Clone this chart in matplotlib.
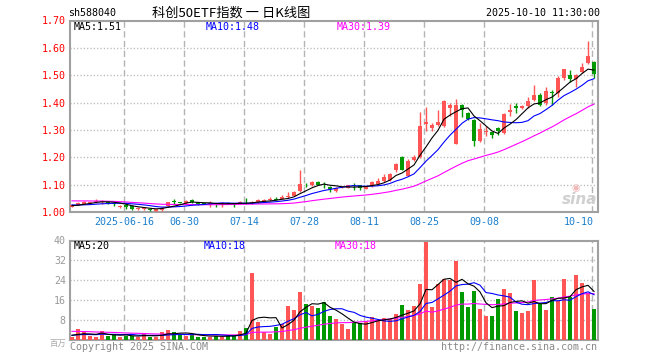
import numpy as np
import matplotlib
matplotlib.use('Agg')
import matplotlib.pyplot as plt
from matplotlib import transforms

plt.rcParams['lines.scale_dashes'] = False

# ---------------- data ----------------
opens = [1.020, 1.026, 1.030, 1.034, 1.038, 1.036, 1.036, 1.032, 1.020, 1.024,
         1.022, 1.012, 1.010, 1.010, 1.004, 1.008, 1.022, 1.038, 1.036, 1.032,
         1.044, 1.036, 1.031, 1.031, 1.030, 1.029, 1.034, 1.030, 1.030, 1.034,
         1.032, 1.036, 1.040, 1.044, 1.048, 1.048, 1.054, 1.060, 1.076, 1.100,
         1.098, 1.110, 1.100, 1.093, 1.078, 1.090, 1.089, 1.098, 1.097, 1.085,
         1.095, 1.104, 1.113, 1.118, 1.152, 1.202, 1.133, 1.190, 1.200, 1.323,
         1.308, 1.318, 1.314, 1.381, 1.250, 1.392, 1.361, 1.337, 1.260, 1.294,
         1.291, 1.306, 1.290, 1.366, 1.388, 1.380, 1.386, 1.410, 1.428, 1.398,
         1.437, 1.436, 1.490, 1.502, 1.487, 1.512, 1.546, 1.547]
highs = [1.028, 1.035, 1.042, 1.038, 1.046, 1.044, 1.038, 1.034, 1.026, 1.028,
         1.024, 1.018, 1.018, 1.012, 1.012, 1.020, 1.038, 1.046, 1.038, 1.044,
         1.046, 1.038, 1.033, 1.040, 1.032, 1.038, 1.036, 1.032, 1.042, 1.050,
         1.040, 1.048, 1.048, 1.056, 1.056, 1.062, 1.074, 1.076, 1.154, 1.106,
         1.112, 1.115, 1.109, 1.095, 1.090, 1.094, 1.099, 1.105, 1.099, 1.095,
         1.115, 1.123, 1.140, 1.142, 1.180, 1.205, 1.192, 1.210, 1.364, 1.385,
         1.326, 1.374, 1.410, 1.398, 1.412, 1.395, 1.364, 1.339, 1.325, 1.313,
         1.294, 1.312, 1.362, 1.396, 1.398, 1.391, 1.422, 1.465, 1.435, 1.457,
         1.447, 1.496, 1.523, 1.520, 1.503, 1.545, 1.624, 1.551]
lows = [1.018, 1.024, 1.028, 1.032, 1.034, 1.028, 1.030, 1.022, 1.014, 1.012,
        1.006, 1.006, 1.006, 1.002, 1.000, 1.004, 1.020, 1.030, 1.032, 1.028,
        1.034, 1.026, 1.028, 1.017, 1.017, 1.020, 1.030, 1.020, 1.028, 1.030,
        1.030, 1.034, 1.036, 1.040, 1.044, 1.046, 1.050, 1.058, 1.072, 1.090,
        1.095, 1.098, 1.088, 1.074, 1.074, 1.088, 1.087, 1.081, 1.080, 1.083,
        1.093, 1.102, 1.110, 1.115, 1.148, 1.152, 1.130, 1.186, 1.196, 1.296,
        1.297, 1.314, 1.310, 1.350, 1.248, 1.349, 1.338, 1.243, 1.256, 1.276,
        1.272, 1.282, 1.286, 1.350, 1.361, 1.377, 1.380, 1.404, 1.386, 1.392,
        1.392, 1.422, 1.484, 1.475, 1.457, 1.508, 1.542, 1.490]
closes = [1.026, 1.032, 1.038, 1.036, 1.042, 1.038, 1.032, 1.030, 1.022, 1.020,
          1.010, 1.014, 1.016, 1.008, 1.010, 1.016, 1.036, 1.036, 1.034, 1.040,
          1.036, 1.030, 1.029, 1.032, 1.029, 1.031, 1.031, 1.029, 1.038, 1.032,
          1.038, 1.044, 1.042, 1.046, 1.045, 1.056, 1.058, 1.072, 1.104, 1.098,
          1.110, 1.100, 1.098, 1.083, 1.088, 1.092, 1.097, 1.095, 1.088, 1.093,
          1.111, 1.114, 1.128, 1.138, 1.177, 1.155, 1.188, 1.202, 1.315, 1.330,
          1.318, 1.328, 1.405, 1.390, 1.392, 1.374, 1.341, 1.258, 1.303, 1.297,
          1.281, 1.297, 1.357, 1.374, 1.380, 1.388, 1.404, 1.429, 1.392, 1.441,
          1.434, 1.490, 1.522, 1.487, 1.502, 1.529, 1.571, 1.505]
volumes = [1.2, 4.4, 3.2, 1.9, 1.3, 3.7, 1.9, 2.1, 1.3, 1.9,
           1.9, 1.3, 2.9, 1.3, 1.5, 3.2, 4.0, 3.2, 2.4, 1.9,
           2.1, 1.5, 1.5, 1.5, 1.9, 1.5, 1.9, 1.9, 3.7, 5.1,
           27.1, 7.2, 3.2, 2.4, 5.5, 6.4, 13.9, 12.1, 19.2, 14.4,
           13.7, 13.1, 15.2, 9.9, 8.5, 6.4, 4.5, 7.2, 6.8, 7.5,
           9.5, 8.1, 9.1, 8.5, 10.5, 14.1, 12.1, 13.7, 22.5, 39.5,
           13.5, 22.5, 24.4, 24.1, 31.7, 19.5, 13.5, 19.7, 12.5, 9.9,
           9.9, 16.5, 20.7, 18.9, 11.9, 11.1, 11.7, 24.1, 14.5, 12.1,
           17.5, 15.9, 24.7, 17.2, 26.1, 23.1, 19.1, 12.5]
# earlier (off-screen) sessions, needed only for the moving averages at the left edge
prior_closes = [1.040, 1.036, 1.042, 1.046, 1.050, 1.048, 1.044, 1.052, 1.056, 1.054,
                1.050, 1.058, 1.060, 1.052, 1.048, 1.046, 1.050, 1.044, 1.040, 1.046,
                1.036, 1.032, 1.028, 1.026, 1.023, 1.024, 1.020, 1.022, 1.023]
prior_volumes = [5.2, 4.8, 3.9, 4.6, 5.5, 4.1, 3.8, 4.4, 5.0, 4.2,
                 3.6, 4.9, 4.5, 3.8, 4.3, 4.7, 4.0, 3.9, 4.6, 4.0,
                 2.4, 1.8, 2.2, 1.9, 1.7, 2.6, 1.9, 2.3, 2.0]

tick_idx = [9, 19, 29, 39, 49, 59, 69, 87]
tick_labels = ['2025-06-16', '06-30', '07-14', '07-28', '08-11', '08-25', '09-08', '10-10']
price_ticks = [1.00, 1.10, 1.20, 1.30, 1.40, 1.50, 1.60, 1.70]
vol_ticks = [8, 16, 24, 32, 40]

price_ma_text = ['MA5:1.51', 'MA10:1.48', 'MA30:1.39']
vol_ma_text = ['MA5:20', 'MA10:18', 'MA30:18']

# ---------------- helpers ----------------
W, H = 660, 360
def fx(px): return px / W
def fy(py): return 1 - py / H

def moving_avg(prior, series, n):
    full = np.array(prior + series, dtype=float)
    k = len(prior)
    return np.array([full[k + i - n + 1:k + i + 1].mean() for i in range(len(series))])

MONO = 'DejaVu Sans Mono'
CJK = ['Noto Sans CJK SC', 'DejaVu Sans']
UP, DN = '#ff5555', '#009900'
GRID = '#b4b4b4'
FS = 7.2
MALW = 0.8

n = len(closes)
x = np.arange(n)
o = np.array(opens); c = np.array(closes)
cols = [UP if cc >= oo else DN for oo, cc in zip(o, c)]

fig = plt.figure(figsize=(6.6, 3.6), dpi=100)
ax = fig.add_axes([fx(70), fy(212), fx(527.5), 191.5 / H])
axv = fig.add_axes([fx(70), fy(340.3), fx(527.5), 99.8 / H])

for a in (ax, axv):
    a.set_xlim(-0.33, 87.58)
    for s in a.spines.values():
        s.set_color('#a0a0a0'); s.set_linewidth(1.5)
    a.set_xticks([])
    a.tick_params(axis='y', length=0, pad=3)
    for t in tick_idx:
        a.axvline(t - 0.3, color=GRID, lw=1, ls=(0, (4.5, 2.5)), zorder=1)

# price panel
ax.set_ylim(1.0, 1.70)
for v in price_ticks[1:-1]:
    ax.axhline(v, color=GRID, lw=1, ls=(0, (0.8, 1.6)), zorder=1)
ax.set_yticks(price_ticks)
ax.set_yticklabels(['%.2f' % v for v in price_ticks], color='#ff0000', fontsize=FS, family=MONO)

ax.vlines(x, lows, highs, colors=cols, lw=1.0, zorder=3)
body_lo = np.minimum(o, c)
body_h = np.maximum(np.abs(c - o), 0.0025)
ax.bar(x, body_h, bottom=body_lo, width=0.75, color=cols, lw=0, zorder=4)

ax.plot(x, moving_avg(prior_closes, closes, 30), color='#ff00ff', lw=MALW, zorder=5)
ax.plot(x, moving_avg(prior_closes, closes, 10), color='#0000ff', lw=MALW, zorder=5)
ax.plot(x, moving_avg(prior_closes, closes, 5), color='#000000', lw=MALW, zorder=5)

trans = transforms.blended_transform_factory(ax.transData, ax.transAxes)
for t, lab in zip(tick_idx, tick_labels):
    if t == tick_idx[-1]:
        ax.text(87.0, -0.052, lab, transform=trans, ha='right', va='center',
                color='#1a7fcc', fontsize=FS, family=MONO)
    else:
        ax.text(t - 0.3, -0.052, lab, transform=trans, ha='center', va='center',
                color='#1a7fcc', fontsize=FS, family=MONO)

# volume panel
axv.set_ylim(0, 40)
for v in vol_ticks[:-1]:
    axv.axhline(v, color=GRID, lw=1, ls=(0, (0.8, 1.6)), zorder=1)
axv.set_yticks(vol_ticks)
axv.set_yticklabels([str(v) for v in vol_ticks], color='#999999', fontsize=FS, family=MONO)
axv.bar(x, volumes, width=0.78, color=cols, lw=0, zorder=3)
axv.plot(x, moving_avg(prior_volumes, volumes, 30), color='#ff00ff', lw=MALW, zorder=5)
axv.plot(x, moving_avg(prior_volumes, volumes, 10), color='#0000ff', lw=MALW, zorder=5)
axv.plot(x, moving_avg(prior_volumes, volumes, 5), color='#000000', lw=MALW, zorder=5)

# header
fig.text(fx(68), fy(13), 'sh588040', fontsize=FS, family=MONO, va='center', color='#000000')
fig.text(fx(231), fy(13), '科创50ETF指数 一 日K线图', fontsize=9.5, family=CJK,
         va='center', ha='center', color='#000000')
fig.text(fx(600), fy(13), '2025-10-10 11:30:00', fontsize=FS, family=MONO,
         va='center', ha='right', color='#000000')

ma_cols = ['#000000', '#0000ff', '#ff00ff']
for txt, px, col in zip(price_ma_text, [74, 206, 337], ma_cols):
    fig.text(fx(px), fy(27), txt, fontsize=FS, family=MONO, va='center', color=col)
for txt, px, col in zip(vol_ma_text, [74, 204, 335], ma_cols):
    fig.text(fx(px), fy(246), txt, fontsize=FS, family=MONO, va='center', color=col)

fig.text(fx(70), fy(347), 'Copyright 2025 SINA.COM', fontsize=FS, family=MONO,
         va='center', color='#8a8a8a')
fig.text(fx(597), fy(347), 'http://finance.sina.com.cn', fontsize=FS, family=MONO,
         va='center', ha='right', color='#8a8a8a')
fig.text(fx(66), fy(343), '百万', fontsize=6, family=CJK, va='center', ha='right', color='#aaaaaa')

# sina watermark
fig.text(fx(580), fy(200), 'sina', fontsize=11, style='italic', weight='bold',
         ha='center', va='center', color='#d0d0d0', family='DejaVu Sans')
fig.text(fx(576), fy(188), '◉', fontsize=7, ha='center', va='center', color='#f2b8b8',
         family='DejaVu Sans')

fig.savefig('out.png', dpi=100)
